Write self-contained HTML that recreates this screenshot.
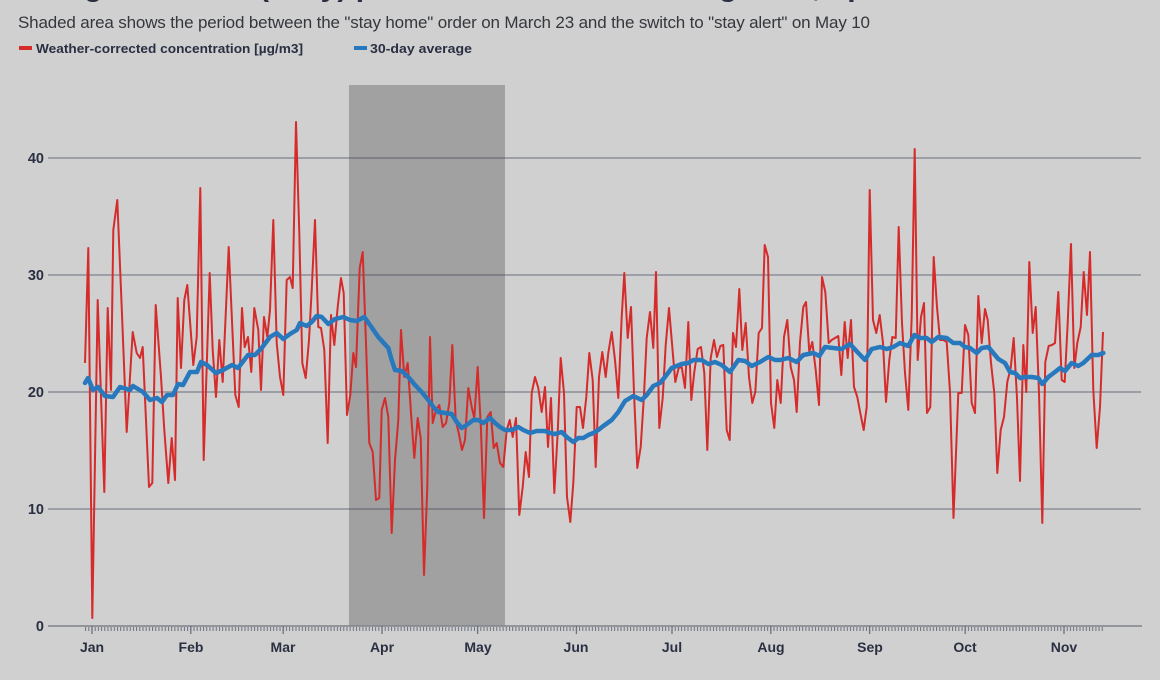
<!DOCTYPE html>
<html>
<head>
<meta charset="utf-8">
<style>
html,body{margin:0;padding:0;background:#cfd0cf;}
svg{display:block;}
text{font-family:"Liberation Sans",Arial,sans-serif;}
</style>
</head>
<body>
<svg width="1160" height="680" viewBox="0 0 1160 680" xmlns="http://www.w3.org/2000/svg">
<defs>
<pattern id="mt" patternUnits="userSpaceOnUse" x="91.5" y="0" width="3.187" height="680">
<rect x="0" y="627" width="1" height="4" fill="#6d717e"/>
</pattern>
</defs>
<rect x="0" y="0" width="1160" height="680" fill="#cfd0cf"/>

<!-- title (cut off) -->
<text x="14" y="-4" font-size="30" font-weight="bold" fill="#2b2f42">Nitrogen dioxide (daily) pollution in London during 2020, up</text>

<!-- subtitle -->
<text x="18" y="28" font-size="17" fill="#35373d" textLength="852" lengthAdjust="spacing">Shaded area shows the period between the "stay home" order on March 23 and the switch to "stay alert" on May 10</text>

<!-- legend -->
<rect x="19" y="46" width="13" height="4" fill="#d62b2b"/>
<text x="36" y="53" font-size="13" font-weight="bold" fill="#2b2f42" textLength="267" lengthAdjust="spacingAndGlyphs">Weather-corrected concentration [µg/m3]</text>
<rect x="354" y="46" width="13" height="4" fill="#2878be"/>
<text x="370" y="53" font-size="13" font-weight="bold" fill="#2b2f42" textLength="102" lengthAdjust="spacingAndGlyphs">30-day average</text>

<!-- shaded lockdown period -->
<rect x="349" y="85" width="156" height="541" fill="#a0a1a0"/>

<!-- gridlines -->
<g stroke="#3c4155" stroke-opacity="0.45" stroke-width="1.5">
<line x1="48" y1="158" x2="1141" y2="158"/>
<line x1="48" y1="275" x2="1141" y2="275"/>
<line x1="48" y1="392" x2="1141" y2="392"/>
<line x1="48" y1="509" x2="1141" y2="509"/>
</g>
<line x1="48" y1="626" x2="1142" y2="626" stroke="#7e828c" stroke-width="1.5"/>

<!-- y labels -->
<g font-size="14.5" font-weight="bold" fill="#2b2f42" text-anchor="end">
<text x="44" y="163">40</text>
<text x="44" y="280">30</text>
<text x="44" y="397">20</text>
<text x="44" y="514">10</text>
<text x="44" y="631">0</text>
</g>

<!-- minor ticks -->
<rect x="84.5" y="626" width="1019" height="6" fill="url(#mt)"/>
<!-- major ticks -->
<g stroke="#6d717e" stroke-width="1.3">
<line x1="92" y1="626" x2="92" y2="634"/>
<line x1="190.8" y1="626" x2="190.8" y2="634"/>
<line x1="283.2" y1="626" x2="283.2" y2="634"/>
<line x1="382" y1="626" x2="382" y2="634"/>
<line x1="477.6" y1="626" x2="477.6" y2="634"/>
<line x1="576.4" y1="626" x2="576.4" y2="634"/>
<line x1="672" y1="626" x2="672" y2="634"/>
<line x1="770.8" y1="626" x2="770.8" y2="634"/>
<line x1="869.6" y1="626" x2="869.6" y2="634"/>
<line x1="965.2" y1="626" x2="965.2" y2="634"/>
<line x1="1064" y1="626" x2="1064" y2="634"/>
</g>

<!-- month labels -->
<g font-size="14" font-weight="bold" fill="#2b2f42" text-anchor="middle">
<text x="92" y="652">Jan</text>
<text x="191" y="652">Feb</text>
<text x="283" y="652">Mar</text>
<text x="382" y="652">Apr</text>
<text x="478" y="652">May</text>
<text x="576" y="652">Jun</text>
<text x="672" y="652">Jul</text>
<text x="771" y="652">Aug</text>
<text x="870" y="652">Sep</text>
<text x="965" y="652">Oct</text>
<text x="1064" y="652">Nov</text>
</g>

<!-- daily series -->
<polyline fill="none" stroke="#d62b2b" stroke-width="2" stroke-linejoin="round" points="85,363 88.3,248 92.3,618 97.7,300 104.3,492 107.7,308 111,390 113.3,230 117.3,200 121.7,307 126.7,432 132.7,332 136.7,353 140,358 142.7,347 149,487 152.3,483 155.7,305 161,377 164.3,430 168.3,483 171.7,438 175,480 177.7,298 181,368 184.3,300 187.3,285 193.3,365 196.7,337 200.3,188 203.7,460 209.7,273 212.7,350 216,397 219.3,340 222.7,382 228.7,247 235.3,395 238.7,407 242,308 244.7,347 248,337 251.3,372 254.3,308 258.3,330 261,390 264,317 267.3,337 270,310 273.3,220 276.7,343 280,377 283.3,395 286.7,280 290,277 292.7,288 296,122 299.3,233 302.3,363 305.7,378 309,340 311.7,290 315,220 318.3,327 321,328 324.3,350 327.7,443 331,315 334.3,345 337.7,307 341,278 343.7,293 347,415 350.3,395 353.3,353 356,367 359.7,268 362.7,252 366,343 369.3,443 372.7,452 376,500 379.3,498 381.7,410 385,398 388.3,417 391.7,533 395,460 398.3,420 401,330 404.3,377 407.7,363 411,413 414.3,458 417.7,418 420.7,438 424,575 427.3,487 430,337 432.7,423 436,410 439.3,405 442.7,427 446,423 449.3,403 452.3,345 455.7,420 458.7,433 462,450 465,440 468.3,388 471.7,407 474.3,418 477.7,367 481,430 484,518 487.3,417 490.7,412 493.7,448 496.7,443 500,463 503.3,467 506.7,430 509.7,420 512.7,437 516,418 519.3,515 522.7,487 525.7,452 529,477 531.7,393 535,377 538.3,388 541.7,412 545,387 548,447 551,398 554.3,493 557.7,433 560.7,358 564,393 567,497 570.3,522 573.3,483 576.7,407 580,407 583,428 586.3,397 589.3,353 592.7,380 595.7,467 599,377 602.3,352 605.7,377 608.3,353 611.7,332 615,360 618.3,398 621.7,317 624.3,273 627.7,338 631,307 634,393 637.3,468 640.7,447 644,395 646.7,338 650,312 653.3,348 656,272 659.3,428 662.7,398 665.7,345 669,308 672.3,347 675.3,382 678.7,368 681.7,367 685,388 688.3,322 691.3,400 694.3,372 697.7,349 701,347 704.3,373 707.3,450 710.7,358 714,340 717,357 720.3,346 723.3,345 726.7,430 729.7,440 733,333 736,347 739.3,289 742.3,350 745.7,323 749,377 752.3,403 755.3,392 758.7,333 762,328 764.7,245 768,257 771,403 774.3,428 777.3,380 780.7,403 784,337 787.3,320 790.7,367 794,380 796.7,412 800,342 803.3,307 806,302 809.3,352 812.3,342 815.7,370 819,405 822,277 825.3,292 828.7,343 831.7,340 835,338 838.3,336 841.3,375 844.7,322 847.7,358 851,320 854,387 857.3,397 860.3,413 863.7,430 866.7,407 869.7,190 873,320 876.3,333 879.7,315 883,343 886,402 889.3,360 892.3,337 895.7,338 898.7,227 902,323 905,373 908.3,410 911.7,317 914.7,149 917.7,360 921,317 924,303 927,413 930.3,407 933.7,257 937,307 940,340 943.3,340 946.7,342 950,392 953.5,518 958.3,393 961.7,393 965,325 968.3,335 971.7,403 975,413 978.3,296 981.7,343 985,309 987.7,320 991,363 994.3,393 997.3,473 1000.7,430 1004,417 1007.3,382 1010.7,368 1013.7,338 1017,398 1020,481 1023.3,345 1026.3,392 1029.3,262 1032.7,333 1035.7,307 1039,393 1042.3,523 1045.3,362 1048.7,346 1052,345 1055,343 1058.3,292 1061.7,380 1064.7,382 1067.7,323 1071,244 1074.3,368 1077.3,343 1080.7,327 1083.7,272 1087,315 1090,252 1093.3,390 1096.7,448 1100,407 1103,332"/>

<!-- 30-day average -->
<polyline fill="none" stroke="#2878be" stroke-width="4.5" stroke-linejoin="round" stroke-linecap="round" points="85,383 88,378 93,390 98,387 105,396 113,397 120,387 130,390 133,386 143,392 150,400 157,398 162,402 167,395 173,395 178,384 183,385 190,372 197,372 201,362 207,365 216,373 223,370 232,365 238,368 248,355 255,355 261.7,348 270,337 276.7,333 283.3,339 290,334 296.7,330 300,323 306.7,326 311.7,322 316.7,316 321.7,317 328.3,324 335,319 343.3,317 350,320 356.7,321 364.3,317 370,325 378.3,337 388.3,348 391.7,360 395,370 401.7,371 408.3,377 415,385 421.7,392 428.3,400 433.3,407 438.3,412 445,413 451.7,414 456.7,422 461.7,428 466.7,425 473.3,420 478.3,420 483.3,423 490,418 495,423 500,427 505,430 511.7,430 518.3,427 523.3,430 530,433 536.7,431 545,431 550,433 555,434 561.7,432 566.7,437 573.3,442 578.3,438 583.3,438 588.3,435 593.3,433 598.3,430 603.3,426 611.7,420 618.3,412 625,401 633.3,396 641.7,400 646.7,395 653.3,386 660,383 665,377 671.7,368 681.7,364 688.3,363 693.3,360 701.7,360 708.3,364 715,362 721.7,365 730,372 738.3,360 745,361 751.7,366 760,362 768.3,357 775,360 780,360 788.3,358 796.7,362 803.3,355 813.3,353 819.3,356 825,347 833.3,348 841.7,349 850,344 858.3,353 865,360 871.7,349 880,347 886.7,349 893.3,347 900,343 908.3,346 914.3,335 920,338 926.7,338 931.7,342 938.3,337 946.7,338 953.3,343 960,343 965,347 970,348 976.7,353 981.7,348 988.3,347 993.3,353 998.3,359 1005,363 1010,372 1015,373 1020,378 1025,377 1031.7,377 1038.3,378 1042.3,384 1048.3,377 1055,372 1060,368 1065,371 1071.7,363 1078.3,366 1083.3,363 1091.7,355 1098.3,355 1103.3,353"/>
</svg>
</body>
</html>
